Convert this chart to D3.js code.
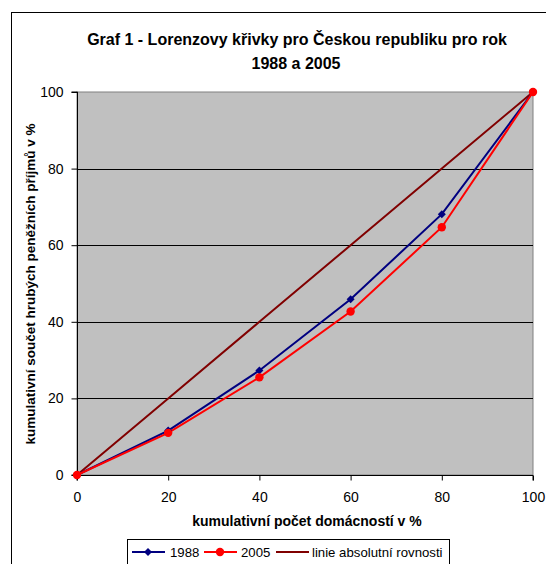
<!DOCTYPE html>
<html><head><meta charset="utf-8">
<script src="https://cdn.jsdelivr.net/npm/d3@7"></script>
<style>body{margin:0;background:#fff}svg{display:block;font-family:"Liberation Sans",Arial,sans-serif}</style>
</head><body>
<script>
const xValues = [0, 20, 40, 60, 80, 100];
const series1988 = [0, 11.6, 27.3, 45.9, 68.1, 100];
const series2005 = [0, 11.0, 25.5, 42.7, 64.7, 100];
const equality = [0, 20, 40, 60, 80, 100];
const xTicks = [0, 20, 40, 60, 80, 100];
const yTicks = [0, 20, 40, 60, 80, 100];
const titleLines = ["Graf 1 - Lorenzovy křivky pro Českou republiku pro rok", "1988 a 2005"];
const xTitle = "kumulativní počet domácností v %";
const yTitle = "kumulativní součet hrubých peněžních příjmů v %";
const legendNames = ["1988", "2005", "linie absolutní rovnosti"];

const W = 546, H = 564;
const svg = d3.select("body").append("svg").attr("width", W).attr("height", H);

// outer frame
svg.append("rect").attr("x", 11.5).attr("y", 12.5).attr("width", 560).attr("height", 570)
  .attr("fill", "#fff").attr("stroke", "#000").attr("stroke-width", 1);

const L = 77, R = 533, T = 92, B = 475;
const x = d3.scaleLinear().domain([0, 100]).range([L, R]);
const y = d3.scaleLinear().domain([0, 100]).range([B, T]);

svg.append("rect").attr("x", L).attr("y", T).attr("width", R - L).attr("height", B - T)
  .attr("fill", "#C0C0C0").attr("stroke", "#808080").attr("stroke-width", 1);

// gridlines
svg.append("g").selectAll("line").data(yTicks.filter(d => d > 0 && d < 100)).join("line")
  .attr("x1", L).attr("x2", R).attr("y1", d => Math.round(y(d)) + 0.5).attr("y2", d => Math.round(y(d)) + 0.5)
  .attr("stroke", "#000").attr("stroke-width", 1);

// axes
const xAxis = d3.axisBottom(x).tickValues(xTicks).tickSize(5).tickPadding(12);
const gx = svg.append("g").attr("transform", `translate(0,${B + 0.5})`).call(xAxis);
const yAxis = d3.axisLeft(y).tickValues(yTicks).tickSize(6).tickPadding(8);
const gy = svg.append("g").attr("transform", `translate(${L + 0.5},0)`).call(yAxis);
[gx, gy].forEach(g => {
  g.select(".domain").attr("stroke", "#000");
  g.selectAll(".tick line").attr("stroke", "#000");
  g.selectAll(".tick text").attr("font-size", 14).attr("fill", "#000").attr("font-family", "Liberation Sans, Arial, sans-serif");
});
gx.select(".domain").attr("d", `M${L},5V0H${R}V5`);
gy.select(".domain").attr("d", `M-6,${T}H0V${B}H-6`);

// lines
const line = d3.line().x((d, i) => x(xValues[i])).y(d => y(d));
svg.append("path").datum(equality).attr("d", line).attr("fill", "none").attr("stroke", "#800000").attr("stroke-width", 2);
svg.append("path").datum(series1988).attr("d", line).attr("fill", "none").attr("stroke", "#000080").attr("stroke-width", 2);
svg.append("path").datum(series2005).attr("d", line).attr("fill", "none").attr("stroke", "#FF0000").attr("stroke-width", 2);

const diamond = d3.symbol().type(d3.symbolSquare).size(32);
svg.append("g").selectAll("path").data(series1988).join("path")
  .attr("transform", (d, i) => `translate(${x(xValues[i])},${y(d)}) rotate(45)`).attr("d", diamond).attr("fill", "#000080");
svg.append("g").selectAll("circle").data(series2005).join("circle")
  .attr("cx", (d, i) => x(xValues[i])).attr("cy", d => y(d)).attr("r", 4.2).attr("fill", "#FF0000");

// title
svg.append("text").attr("x", 297).attr("y", 45).attr("text-anchor", "middle").attr("font-size", 16).attr("font-weight", "bold").text(titleLines[0]);
svg.append("text").attr("x", 296).attr("y", 69).attr("text-anchor", "middle").attr("font-size", 16).attr("font-weight", "bold").text(titleLines[1]);

// axis titles
svg.append("text").attr("x", 307).attr("y", 526).attr("text-anchor", "middle").attr("font-size", 14).attr("font-weight", "bold").text(xTitle);
svg.append("text").attr("transform", `translate(35,284) rotate(-90)`).attr("text-anchor", "middle").attr("font-size", 13.5).attr("font-weight", "bold").text(yTitle);

// legend
const lg = svg.append("g");
lg.append("rect").attr("x", 127.5).attr("y", 539.5).attr("width", 322).attr("height", 30).attr("fill", "#fff").attr("stroke", "#000");
const items = [
  {x: 132, color: "#000080", marker: "diamond", tx: 170},
  {x: 204, color: "#FF0000", marker: "circle", tx: 241},
  {x: 276, color: "#800000", marker: null, tx: 312}
];
const ly = 552;
items.forEach((it, i) => {
  lg.append("line").attr("x1", it.x).attr("x2", it.x + 33).attr("y1", ly).attr("y2", ly).attr("stroke", it.color).attr("stroke-width", 2);
  if (it.marker === "diamond") lg.append("path").attr("transform", `translate(${it.x + 16},${ly}) rotate(45)`).attr("d", diamond).attr("fill", it.color);
  if (it.marker === "circle") lg.append("circle").attr("cx", it.x + 16).attr("cy", ly).attr("r", 4.2).attr("fill", it.color);
  lg.append("text").attr("x", it.tx).attr("y", 557).attr("font-size", 13.2).text(legendNames[i]);
});
</script>
</body></html>
